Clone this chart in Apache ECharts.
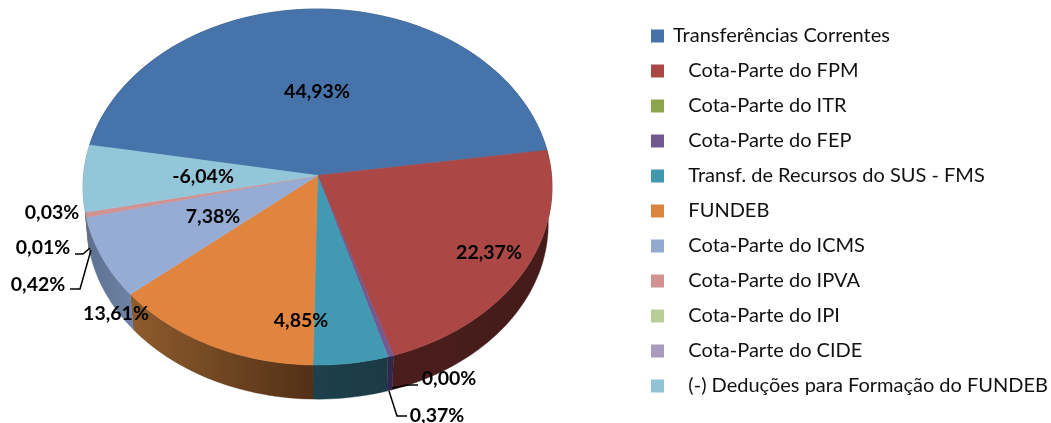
<!DOCTYPE html>
<html><head><meta charset="utf-8">
<style>html,body{margin:0;padding:0;background:#fff}#c{width:1051px;height:423px}</style>
<script src="https://cdn.jsdelivr.net/npm/echarts@6/dist/echarts.min.js"></script></head>
<body><div id="c"></div>
<script>
// ---- data ----
const categories = ['Transferências Correntes','Cota-Parte do FPM','Cota-Parte do ITR','Cota-Parte do FEP','Transf. de Recursos do SUS - FMS','FUNDEB','Cota-Parte do ICMS','Cota-Parte do IPVA','Cota-Parte do IPI','Cota-Parte do CIDE','(-) Deduções para Formação do FUNDEB'];
const values = [44.93,22.37,0.00,0.37,4.85,13.61,7.38,0.42,0.01,0.03,-6.04];
const indent = [0,1,1,1,1,1,1,1,1,1,1];
// ---- styles and layout ----
const topColors = ['#4673A9','#AB4745','#8BA54D','#75598F','#429AB2','#E0843E','#97ACD4','#D19392','#B9CD96','#A99BBD','#94C6D9'];
const legendColors = ['#4672A8','#AA4644','#8BA54D','#71588F','#4198AF','#DB843D','#93A9CF','#D19392','#B9CD96','#A99BBD','#92C3D4'];
const wallColors = [['#25405F','#25405F'],['#4B1E1C','#431B19'],['#4B5A2A','#4B5A2A'],['#33274D','#33274D'],['#1D404C','#1B3A45'],['#8F5C2D','#523016'],['#5C7090','#6F83A6'],['#7A5554','#7A5554'],['#6A7756','#6A7756'],['#5F5770','#5F5770'],['#5D7F8C','#5D7F8C']];
const labelPos = [[317,92],[489,253],[449,379],[437,416],[301,321],[116,314],[213,217],[38,285],[43,248],[52,213],[203,177]];
const leaders = {2:[[418,385],[408,385],[392,388]],3:[[407,416],[397,416],[389,391]],7:[[70,289],[80,289],[91,250]],8:[[75,254],[83,254],[90,248]]};
const PIE = {cx:317.5, cy:187, rx:234.5, ry:178, hubShift:0.0646, startDeg:280, wallCy:224, wallScale:0.984};
const FONT = 'Lato';

const total = values.reduce((s,v)=>s+Math.abs(v),0);
const bounds = [0];
values.forEach(v=>bounds.push(bounds[bounds.length-1]+Math.abs(v)/total*360));

// true disc angle -> perspective-projected point on the unit ellipse
function proj(deg){
  const a = (PIE.startDeg+deg)*Math.PI/180, xt=Math.sin(a), yt=Math.cos(a), e=PIE.hubShift;
  const d = 1+e*yt;
  return [xt*Math.sqrt(1-e*e)/d, (yt+e)/d];
}
const topPt = u => [PIE.cx+u[0]*PIE.rx, PIE.cy-u[1]*PIE.ry];
const botPt = u => [PIE.cx+u[0]*PIE.rx*PIE.wallScale, PIE.wallCy-u[1]*PIE.ry*PIE.wallScale];
function arc(i){
  const a=bounds[i], b=bounds[i+1], n=Math.max(2,Math.ceil((b-a)/1.5)), out=[];
  for(let k=0;k<=n;k++) out.push(proj(a+(b-a)*k/n));
  return out;
}
function renderTop(i){
  return function(){
    if(values[i]===0) return {type:'group',children:[]};
    const pts=[[PIE.cx,PIE.cy-PIE.hubShift*PIE.ry]].concat(arc(i).map(topPt));
    const wide=Math.abs(values[i])>0.1;
    return {type:'polygon',shape:{points:pts},style:{fill:topColors[i],stroke:wide?topColors[i]:null,lineWidth:wide?0.6:0}};
  };
}
function renderWall(params){
  const i=params.dataIndex;
  if(values[i]===0) return {type:'group',children:[]};
  const u=arc(i), pts=u.map(topPt).concat(u.slice().reverse().map(botPt));
  const c=wallColors[i];
  return {type:'polygon',shape:{points:pts},style:{
    fill:new echarts.graphic.LinearGradient(0,0,1,0,[{offset:0,color:c[0]},{offset:1,color:c[1]}]),
    stroke:c[1],lineWidth:0.4}};
}
function renderLabel(params){
  const i=params.dataIndex, kids=[];
  kids.push({type:'text',x:labelPos[i][0],y:labelPos[i][1],z2:10,style:{
    text:values[i].toFixed(2).replace('.',',')+'%',fill:'#000',font:'700 19.5px '+FONT,align:'center',verticalAlign:'middle'}});
  if(leaders[i]) kids.push({type:'polyline',z2:9,shape:{points:leaders[i]},style:{stroke:'#000',lineWidth:1.5,fill:null}});
  return {type:'group',children:kids};
}
const names = categories.map((c,i)=>(indent[i]?'   ':'')+c);
const series = [{type:'custom',name:'walls',coordinateSystem:'none',z:1,silent:true,renderItem:renderWall,data:values.map(v=>[v])}];
categories.forEach((c,i)=>series.push({type:'custom',name:names[i],coordinateSystem:'none',z:2,silent:true,
  renderItem:renderTop(i),data:[[values[i]]],itemStyle:{color:legendColors[i]}}));
series.push({type:'custom',name:'labels',coordinateSystem:'none',z:3,silent:true,renderItem:renderLabel,data:values.map(v=>[v])});

const chart = echarts.init(document.getElementById('c'),null,{renderer:'canvas'});
chart.setOption({
  animation:false, backgroundColor:'#fff',
  legend:{orient:'vertical',left:646,top:21,itemWidth:13,itemHeight:13,itemGap:15,selectedMode:false,icon:'rect',
    data:names,textStyle:{fontFamily:FONT,fontSize:20,color:'#111',padding:[0,0,0,4],lineHeight:20}},
  series
});
</script></body></html>
